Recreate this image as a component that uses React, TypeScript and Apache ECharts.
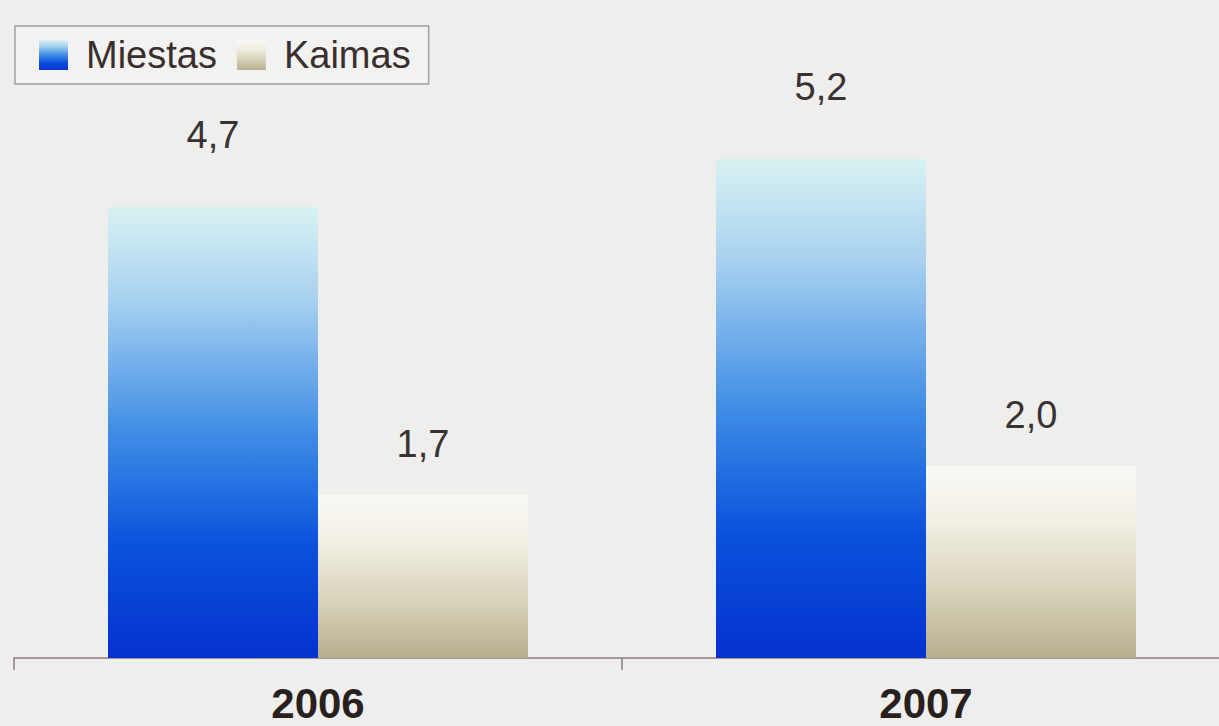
import React, { useEffect, useRef } from "react";
import * as echarts from "echarts";

const years = ["2006", "2007"];
const miestas = [4.7, 5.2];
const kaimas = [1.7, 2.0];
const seriesNames = ["Miestas", "Kaimas"];

const fmt = (v: number) => v.toFixed(1).replace(".", ",");

export default function App() {
  const ref = useRef<HTMLDivElement>(null);

  useEffect(() => {
    if (!ref.current) return;
    const chart = echarts.init(ref.current, undefined, { renderer: "svg" });

    const blue = new echarts.graphic.LinearGradient(0, 0, 0, 1, [
      { offset: 0, color: "#d8f2f2" },
      { offset: 0.2, color: "#a9d2f0" },
      { offset: 0.5, color: "#3f8de6" },
      { offset: 0.75, color: "#0a52dc" },
      { offset: 1, color: "#0532d0" },
    ]);
    const tan = new echarts.graphic.LinearGradient(0, 0, 0, 1, [
      { offset: 0, color: "#f9f9f6" },
      { offset: 0.3, color: "#f1eee2" },
      { offset: 0.65, color: "#d9d3bb" },
      { offset: 1, color: "#b6ae8e" },
    ]);

    const labelStyle = (distance: number) => ({
      show: true,
      position: "top" as const,
      distance,
      formatter: (p: any) => fmt(p.value),
      fontFamily: "'Liberation Sans', Arial, sans-serif",
      fontSize: 38,
      color: "#3a3232",
    });

    chart.setOption({
      animation: false,
      backgroundColor: "#eeeeec",
      legend: {
        left: 15,
        top: 26,
        padding: [10, 18, 10, 24],
        itemGap: 20,
        itemWidth: 29,
        itemHeight: 30,
        borderColor: "#a0a0a0",
        borderWidth: 1.5,
        backgroundColor: "#f2f2f0",
        icon: "rect",
        textStyle: {
          fontFamily: "'Liberation Sans', Arial, sans-serif",
          fontSize: 38,
          color: "#3a2e2e",
          padding: [0, 0, 0, 13],
        },
        data: seriesNames,
      },
      grid: { left: 14, top: 34, right: 0, bottom: 68, containLabel: false },
      xAxis: {
        type: "category",
        data: years,
        axisLine: { lineStyle: { color: "#8e7c84", width: 1.5 } },
        axisTick: { show: true, length: 12, lineStyle: { color: "#8e7c84", width: 1.5 } },
        axisLabel: {
          margin: 24,
          fontFamily: "'Liberation Sans', Arial, sans-serif",
          fontWeight: "bold",
          fontSize: 42,
          color: "#2a1f1f",
        },
      },
      yAxis: {
        type: "value",
        min: 0,
        max: 6.5,
        show: false,
        splitLine: { show: false },
      },
      series: [
        {
          name: seriesNames[0],
          type: "bar",
          data: miestas,
          barWidth: 210,
          barGap: "0%",
          itemStyle: { color: blue },
          label: labelStyle(53),
        },
        {
          name: seriesNames[1],
          type: "bar",
          data: kaimas,
          barWidth: 210,
          barGap: "0%",
          itemStyle: { color: tan },
          label: labelStyle(32),
        },
      ],
    });

    return () => chart.dispose();
  }, []);

  return (
    <div style={{ position: "fixed", left: 0, top: 0, width: 1219, height: 726, overflow: "hidden" }}>
      <div ref={ref} style={{ width: 1230, height: 726 }} />
    </div>
  );
}
